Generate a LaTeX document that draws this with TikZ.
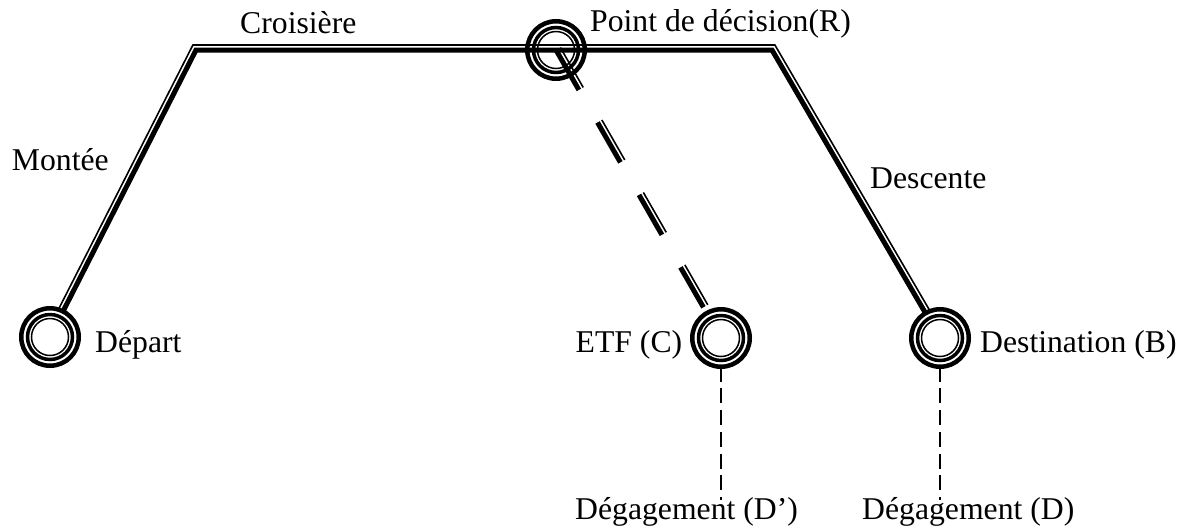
\documentclass[tikz,border=0pt]{standalone}
\usepackage{fontspec}
\setmainfont{Liberation Serif}
\begin{document}
\begin{tikzpicture}[x=1pt,y=-1pt,
  station/.style={circle, draw, line width=4.5pt, minimum size=57.5pt,
    inner sep=0pt, outer sep=0pt,
    path picture={
      \draw[line width=3.5pt] (path picture bounding box.center) circle[radius=22.5pt];
      \draw[line width=1.5pt] (path picture bounding box.center) circle[radius=18.5pt];}},
  heavy/.style={line width=5pt, line join=miter, line cap=butt},
  light/.style={line width=1.6pt, line join=miter, line cap=butt},
  broken/.style={dash pattern=on 46pt off 37.5pt},
  spur/.style={line width=1.3pt, dash pattern=on 15pt off 6.7pt},
  txt/.style={inner sep=0pt, anchor=base west, font=\fontsize{31.7}{38}\selectfont}]
\useasboundingbox (0,0) rectangle (1190,531);

% stations
\node[station] (dep) at (50,337) {};
\node[station] (R) at (556,50) {};
\node[station] (C) at (721,338) {};
\node[station] (B) at (940,338) {};

% route corners (heavy stroke) and the parallel light stroke
\coordinate (tl) at (196,50);
\coordinate (tr) at (772,50);
\coordinate (ltA) at (58.5,309.3);
\coordinate (ltB) at (192.9,45);
\coordinate (ltC) at (774.9,45);
\coordinate (ltD) at (929.9,310.8);
\coordinate (rr) at (560.35,47.53);
\coordinate (cc) at (725.35,335.53);
\coordinate (dC) at (721,500);
\coordinate (dB) at (940,500);

% planned route: climb, cruise, descent
\draw[heavy] (dep) -- (tl) -- (tr) -- (B);
\draw[light] (ltA) -- (ltB) -- (ltC) -- (ltD);

% diversion from the decision point
\draw[heavy, broken] (R.center) -- (C);
\draw[light, broken] (rr) -- (cc);

% alternates
\draw[spur] (C) -- (dC);
\draw[spur] (B) -- (dB);

% labels
\node[txt] (lcruise) at (240,33) {Croisière};
\node[txt] (ldec) at (590,31) {Point de décision(R)};
\node[txt] (lclimb) at (11.7,170) {Montée};
\node[txt] (ldesc) at (870,188) {Descente};
\node[txt] (ldep) at (95,352) {Départ};
\node[txt] (letf) at (575.5,352) {ETF (C)};
\node[txt] (ldest) at (980,352) {Destination (B)};
\node[txt] (laltC) at (575,519) {Dégagement (D’)};
\node[txt] (laltB) at (862,519) {Dégagement (D)};
\end{tikzpicture}
\end{document}
